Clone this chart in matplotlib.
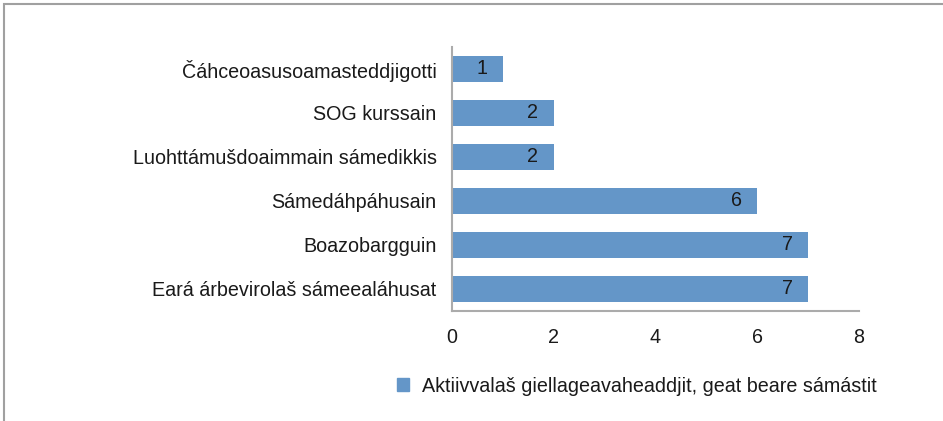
import matplotlib.pyplot as plt
from matplotlib.patches import Rectangle

plt.rcParams['font.family'] = ['Liberation Sans', 'DejaVu Sans']

categories = ['Čáhceoasusoamasteddjigotti', 'SOG kurssain',
              'Luohttámušdoaimmain sámedikkis', 'Sámedáhpáhusain',
              'Boazobargguin', 'Eará árbevirolaš sámeealáhusat']
values = [1, 2, 2, 6, 7, 7]
series_name = 'Aktiivvalaš giellageavaheaddjit, geat beare sámástit'
bar_color = '#6496C8'
fs = 14.2

fig = plt.figure(figsize=(9.43, 4.21), dpi=100)
# outer chart frame, only left and top edges visible in the crop
fig.patches.append(Rectangle((4 / 943, -0.1), 1.1, (421 - 4) / 421 + 0.1,
                             transform=fig.transFigure, fill=False,
                             edgecolor='#a0a0a0', linewidth=1.5))

ax = fig.add_axes([452 / 943, (421 - 311) / 421, (859 - 452) / 943, (311 - 47) / 421])
y = list(range(len(categories)))
ax.barh(y, values, height=0.57, color=bar_color)
ax.set_ylim(len(categories) - 0.5, -0.5)
ax.set_xlim(0, 8)
ax.set_xticks([0, 2, 4, 6, 8])
ax.set_yticks(y)
ax.set_yticklabels(categories)
ax.tick_params(axis='y', length=0, pad=11, labelsize=fs, labelcolor='#1a1a1a')
ax.tick_params(axis='x', length=0, pad=12, labelsize=fs, labelcolor='#1a1a1a')

for s in ['top', 'right']:
    ax.spines[s].set_visible(False)
for s in ['left', 'bottom']:
    ax.spines[s].set_color('#ababab')
    ax.spines[s].set_linewidth(1.5)

for i, v in enumerate(values):
    ax.annotate(str(v), (v, i), xytext=(-11, 0), textcoords='offset points',
                ha='right', va='center', fontsize=fs, color='#1a1a1a')

handle = Rectangle((0, 0), 1, 1, color=bar_color)
fig.legend([handle], [series_name], loc='center', bbox_to_anchor=(637 / 943, 1 - 386 / 421),
           frameon=False, fontsize=fs, handlelength=0.6, handleheight=0.6,
           handletextpad=0.7, labelcolor='#1a1a1a')

fig.savefig('out.png', dpi=100)
